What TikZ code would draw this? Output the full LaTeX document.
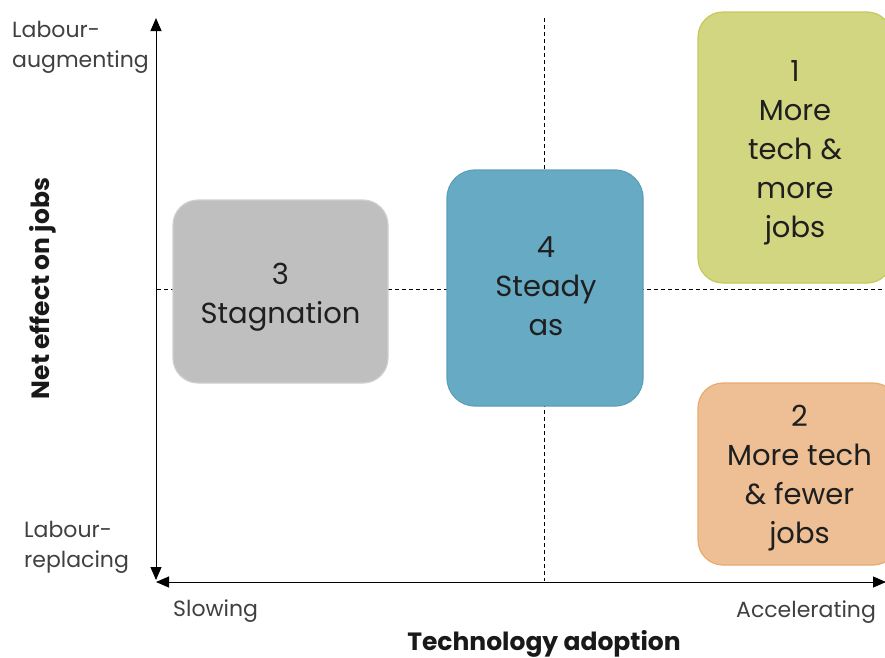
\documentclass[tikz,border=0pt]{standalone}
\usepackage{fontspec}
\setmainfont{Poppins}
\usetikzlibrary{arrows.meta}
\definecolor{greyfill}{HTML}{BFBFBF}
\definecolor{greyedge}{HTML}{CFCFCF}
\definecolor{bluefill}{HTML}{67AAC3}
\definecolor{blueedge}{HTML}{5C9FBA}
\definecolor{greenfill}{HTML}{D3D681}
\definecolor{greenedge}{HTML}{C4C95B}
\definecolor{orangefill}{HTML}{EEBF94}
\definecolor{orangeedge}{HTML}{E8AA6E}
\definecolor{labelgrey}{HTML}{404040}
\begin{document}
\begin{tikzpicture}[x=1pt,y=-1pt,
  quad/.style={draw, line width=1.2pt, rounded corners=25pt, inner sep=0pt},
  quadtext/.style={align=center, font=\fontsize{29}{39}\selectfont, text=black!88, inner sep=0pt, anchor=base},
  axisline/.style={line width=1pt},
  guide/.style={line width=0.8pt, dash pattern=on 4pt off 3pt},
  axlabel/.style={font=\fontsize{22}{30}\selectfont, text=labelgrey, align=left, inner sep=0pt},
  axtitle/.style={font=\bfseries\fontsize{25}{28}\selectfont, text=black!90, inner sep=0pt}
]
\useasboundingbox (0,0) rectangle (885,657);
\clip (0,0) rectangle (885,657);

% axis and guide coordinates
\coordinate (ytop) at (156,18);
\coordinate (ybot) at (156,580);
\coordinate (xleft) at (156,582);
\coordinate (xright) at (886,582);
\coordinate (hl) at (157,289);
\coordinate (hr) at (885,289);
\coordinate (vt) at (544,18);
\coordinate (vb) at (544,581);

% dashed guides
\draw[guide] (hl) -- (hr);
\draw[guide] (vt) -- (vb);

% quadrant boxes
\node[quad, fill=greenfill, draw=greenedge, minimum width=194pt, minimum height=271pt]
  (q1) at (795,147.5) {};
\node[quad, fill=orangefill, draw=orangeedge, minimum width=200pt, minimum height=182pt]
  (q2) at (798,474) {};
\node[quad, fill=greyfill, draw=greyedge, minimum width=215pt, minimum height=183pt]
  (q3) at (280.5,291.5) {};
\node[quad, fill=bluefill, draw=blueedge, minimum width=196pt, minimum height=236pt, rounded corners=28pt]
  (q4) at (545,288) {};

% quadrant texts (anchored at the baseline of the last line)
\node[quadtext] (q1t) at (795,237) {1\\More\\tech \&\\more\\jobs};
\node[quadtext] (q2t) at (799.5,543) {2\\More tech\\\& fewer\\jobs};
\node[quadtext] (q3t) at (280.5,323) {3\\Stagnation};
\node[quadtext] (q4t) at (546,335) {4\\Steady\\as};

% axes
\draw[axisline, {Triangle[length=13pt,width=11pt]}-{Triangle[length=13pt,width=11pt]}] (ytop) -- (ybot);
\draw[axisline, {Triangle[length=13pt,width=11pt]}-{Triangle[length=13pt,width=11pt]}] (xleft) -- (xright);

% labels
\node[axlabel, anchor=base west] (aug) at (12,67) {Labour-\\augmenting};
\node[axlabel, anchor=base west] (rep) at (24,567) {Labour-\\replacing};
\node[axlabel, anchor=base west] (slow) at (173,616) {Slowing};
\node[axlabel, anchor=base west] (acc) at (736,617) {Accelerating};
\node[axtitle, anchor=base] (xtitle) at (544,650) {Technology adoption};
\node[axtitle, rotate=90, anchor=base] (ytitle) at (49,288.5) {Net effect on jobs};
\end{tikzpicture}
\end{document}
